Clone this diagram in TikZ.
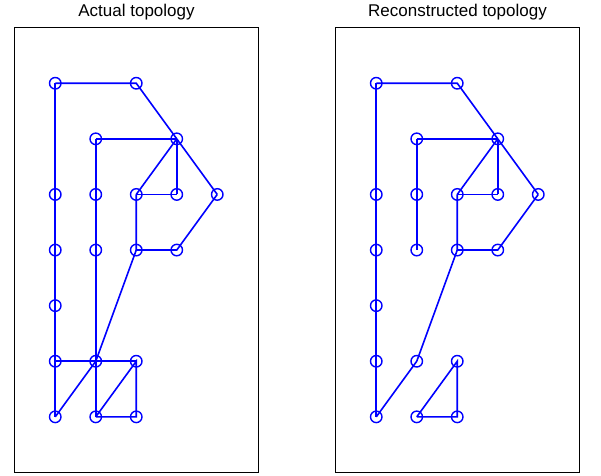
\documentclass[tikz,border=0pt]{standalone}
\usepackage{fontspec}
\setmainfont{Liberation Sans}
\begin{document}
\begin{tikzpicture}[x=1bp,y=-1bp,
  vtx/.style={circle,draw=blue,line width=1.4bp,minimum size=11.5bp,inner sep=0pt},
  edge/.style={draw=blue,line width=1.6bp},
  frame/.style={draw=black,line width=1bp},
  ttl/.style={font=\fontsize{17bp}{20bp}\selectfont,anchor=base}]
\useasboundingbox (0,0) rectangle (601,476);
\foreach \p/\ox in {L/0,R/321}{
  \foreach \c/\r in {0/0,2/0,1/1,3/1,0/2,1/2,2/2,3/2,4/2,0/3,1/3,2/3,3/3,0/4,0/5,1/5,2/5,0/6,1/6,2/6}{
    \node[vtx] (\p\c\r) at ({55.25+\ox+40.5*\c},{83.25+55.6*\r}) {};
  }
}
\draw[frame] (14.5,27.5) rectangle (258.5,472.5);
\draw[frame] (335.5,27.5) rectangle (579.5,472.5);
\node[ttl] (tL) at (136.5,16.5) {Actual topology};
\node[ttl] (tR) at (457.5,16.5) {Reconstructed topology};
% left panel
\draw[edge] (L00.center) -- (L20.center) -- (L31.center);
\draw[edge] (L00.center) -- (L02.center) -- (L03.center) -- (L04.center) -- (L05.center) -- (L06.center);
\draw[edge] (L11.center) -- (L31.center);
\draw[edge] (L11.center) -- (L12.center) -- (L13.center) -- (L15.center) -- (L16.center);
\draw[edge] (L31.center) -- (L22.center);
\draw[edge] (L31.center) -- (L32.center);
\draw[edge] (L31.center) -- (L42.center);
\draw[edge] (L22.center) -- (L32.center);
\draw[edge] (L22.center) -- (L23.center) -- (L33.center) -- (L42.center);
\draw[edge] (L23.center) -- (L15.center);
\draw[edge] (L05.center) -- (L15.center) -- (L25.center);
\draw[edge] (L06.center) -- (L15.center);
\draw[edge] (L16.center) -- (L25.center) -- (L26.center) -- (L16.center);
% right panel
\draw[edge] (R00.center) -- (R20.center) -- (R31.center);
\draw[edge] (R00.center) -- (R02.center) -- (R03.center) -- (R04.center) -- (R05.center) -- (R06.center);
\draw[edge] (R11.center) -- (R31.center);
\draw[edge] (R11.center) -- (R12.center) -- (R13.center);
\draw[edge] (R31.center) -- (R22.center);
\draw[edge] (R31.center) -- (R32.center);
\draw[edge] (R31.center) -- (R42.center);
\draw[edge] (R22.center) -- (R32.center);
\draw[edge] (R22.center) -- (R23.center) -- (R33.center) -- (R42.center);
\draw[edge] (R23.center) -- (R15.center);
\draw[edge] (R06.center) -- (R15.center);
\draw[edge] (R16.center) -- (R25.center) -- (R26.center) -- (R16.center);
\end{tikzpicture}
\end{document}
